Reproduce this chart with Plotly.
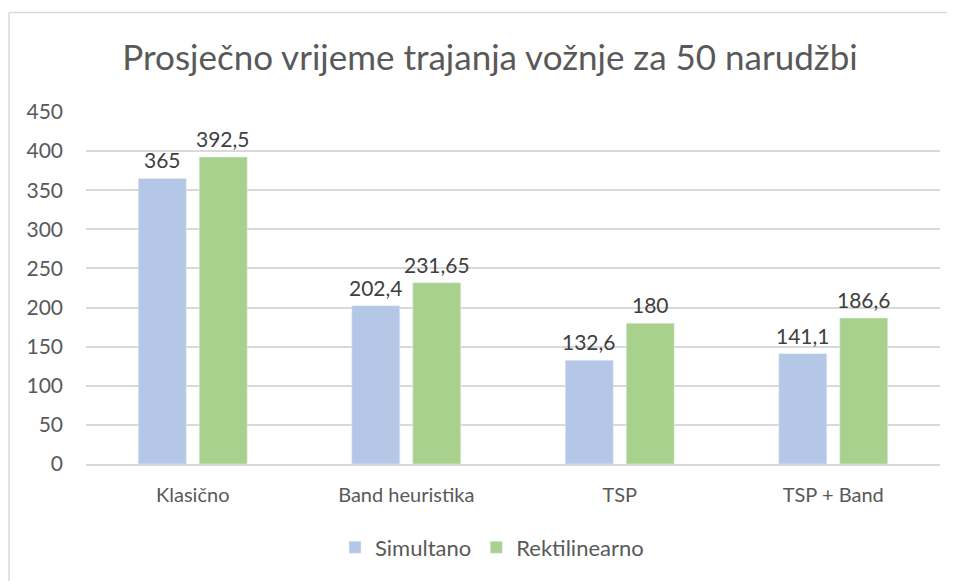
import plotly.graph_objects as go

categories = ["Klasično", "Band heuristika", "TSP", "TSP + Band"]
simultano = [365, 202.4, 132.6, 141.1]
rektilinearno = [392.5, 231.65, 180, 186.6]
series_names = ["Simultano", "Rektilinearno"]
title_text = "Prosječno vrijeme trajanja vožnje za 50 narudžbi"
y_ticks = [0, 50, 100, 150, 200, 250, 300, 350, 400, 450]


def fmt(v):
    return ("%g" % v).replace(".", ",")


FONT = "Lato, Open Sans, sans-serif"
OFF = 8  # browser body margin
W, H = 955 - OFF, 581 - OFF
L = 86 - OFF
T = 112 - OFF
R = W - (940 - OFF)
B = H - (466 - OFF)
pw, ph = W - L - R, H - T - B

fig = go.Figure()
colors = ["#b4c7e7", "#a9d18e"]
for name, vals, col in zip(series_names, [simultano, rektilinearno], colors):
    fig.add_trace(go.Bar(x=categories, y=vals, name=name, marker=dict(color=col)))

shift = 30.5
for sgn, vals in ((-1, simultano), (1, rektilinearno)):
    for c, v in zip(categories, vals):
        fig.add_annotation(x=c, y=v, text=fmt(v), showarrow=False,
                           xshift=sgn * shift, yshift=4, yanchor="bottom",
                           font=dict(family=FONT, size=21, color="#404040"))

# chart border (Excel-style chart area outline): top and left edges visible
ytop = (H - B - (12 - OFF)) / ph
xleft = (9 - OFF - L) / pw
fig.add_shape(type="line", xref="paper", yref="paper",
              x0=xleft, x1=(W + 50 - L) / pw, y0=ytop, y1=ytop,
              line=dict(color="#d9d9d9", width=1.5))
fig.add_shape(type="line", xref="paper", yref="paper",
              x0=xleft, x1=xleft, y0=-(B + 50) / ph, y1=ytop,
              line=dict(color="#d9d9d9", width=1.5))

fig.update_layout(
    width=W, height=H,
    margin=dict(l=L, r=R, t=T, b=B),
    paper_bgcolor="white", plot_bgcolor="white",
    barmode="group", bargap=0.429, bargroupgap=0.213,
    title=dict(text=title_text, x=(490 - OFF) / W, xanchor="center",
               y=1 - (58 - OFF) / H, yanchor="middle",
               font=dict(family=FONT, size=35, color="#595959")),
    font=dict(family=FONT, color="#595959"),
    xaxis=dict(showline=True, linecolor="#d9d9d9", linewidth=1.5,
               tickfont=dict(family=FONT, size=20, color="#595959"),
               ticks="", ticklabelstandoff=12),
    yaxis=dict(range=[0, 450], tickvals=y_ticks, showgrid=True,
               gridcolor="#d9d9d9", gridwidth=1.5, zeroline=False,
               tickfont=dict(family=FONT, size=21, color="#595959"),
               ticks="", ticklabelstandoff=22),
    legend=dict(orientation="h", x=(492 - 86) / 854, xanchor="center",
                y=-(550 - 466) / ph, yanchor="middle",
                font=dict(family=FONT, size=22, color="#595959"),
                itemwidth=30),
)

fig.write_html("out.html")
